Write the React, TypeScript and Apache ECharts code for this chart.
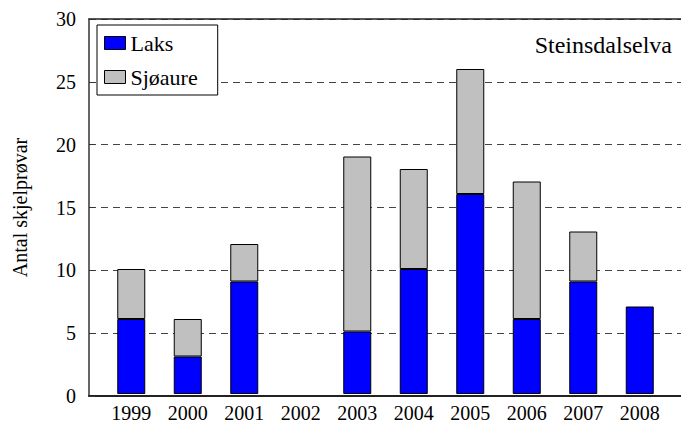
import React, { useEffect, useRef } from "react";
import * as echarts from "echarts";

const years = ["1999", "2000", "2001", "2002", "2003", "2004", "2005", "2006", "2007", "2008"];
const laks = [6, 3, 9, 0, 5, 10, 16, 6, 9, 7];
const sjoaure = [4, 3, 3, 0, 14, 8, 10, 11, 4, 0];
const yTicks = [0, 5, 10, 15, 20, 25, 30];

const FONT = "Liberation Serif";
const FONT2 = "Times New Roman, Liberation Serif, Times, serif";

export default function App() {
  const ref = useRef<HTMLDivElement>(null);
  useEffect(() => {
    if (!ref.current) return;
    const chart = echarts.init(ref.current, undefined, { renderer: "svg" });
    chart.setOption({
      animation: false,
      grid: [
        { left: 89, right: 0, top: 19, bottom: 27 },
        { left: 103, right: 13, top: 19, bottom: 27 },
      ],
      graphic: {
        elements: [
          {
            type: "text",
            right: 9,
            top: 33,
            z: 10,
            style: {
              text: "Steinsdalselva",
              fontFamily: FONT2,
              fontSize: 24,
              fontWeight: "normal",
              fontStyle: "normal",
              fill: "#010101",
            },
          },
        ],
      },
      legend: {
        show: true,
        orient: "vertical",
        left: 97,
        top: 25,
        itemWidth: 21,
        itemHeight: 13,
        itemGap: 12,
        padding: [7, 20, 7, 7],
        borderColor: "#000",
        borderWidth: 1,
        backgroundColor: "#fff",
        icon: "rect",
        textStyle: {
          fontFamily: FONT2,
          fontSize: 22,
          fontWeight: "normal",
          fontStyle: "normal",
          color: "#010101",
        },
        itemStyle: { borderColor: "#000", borderWidth: 1 },
        data: ["Laks", "Sjøaure"],
      },
      xAxis: [
        {
          type: "value",
          gridIndex: 0,
          min: 0,
          max: 1,
          position: "bottom",
          axisLine: { show: true, lineStyle: { color: "#222", width: 2 } },
          axisTick: { show: false },
          axisLabel: { show: false },
          splitLine: { show: false },
        },
        {
          type: "value",
          gridIndex: 0,
          min: 0,
          max: 1,
          position: "top",
          axisLine: { show: true, lineStyle: { color: "#222", width: 1.5 } },
          axisTick: { show: false },
          axisLabel: { show: false },
          splitLine: { show: false },
        },
        {
          type: "category",
          gridIndex: 1,
          data: years,
          axisLine: { show: false },
          axisTick: { show: false },
          axisLabel: { fontFamily: FONT, fontSize: 20, color: "#000", margin: 9 },
        },
      ],
      yAxis: [
        {
          type: "value",
          gridIndex: 0,
          min: yTicks[0],
          max: yTicks[yTicks.length - 1],
          interval: 5,
          name: "Antal skjelprøvar",
          nameLocation: "middle",
          nameGap: 59,
          nameRotate: 90,
          nameTextStyle: { fontFamily: FONT, fontSize: 20, color: "#000" },
          axisLine: { show: true, lineStyle: { color: "#333", width: 1.5 } },
          axisTick: { show: true, inside: true, length: 6, lineStyle: { color: "#333" } },
          axisLabel: { fontFamily: FONT, fontSize: 20, color: "#000", margin: 13 },
          splitLine: { show: true, lineStyle: { color: "#444", type: [7, 5], width: 1 } },
        },
        {
          type: "value",
          gridIndex: 1,
          min: 0,
          max: 30,
          interval: 5,
          show: false,
        },
      ],
      series: [
        {
          name: "Laks",
          type: "bar",
          stack: "total",
          xAxisIndex: 2,
          yAxisIndex: 1,
          barWidth: 28,
          data: laks.map((v) => (v === 0 ? null : v)),
          itemStyle: { color: "#0000FF", borderColor: "#000", borderWidth: 1 },
        },
        {
          name: "Sjøaure",
          type: "bar",
          stack: "total",
          xAxisIndex: 2,
          yAxisIndex: 1,
          barWidth: 28,
          data: sjoaure.map((v) => (v === 0 ? null : v)),
          itemStyle: { color: "#C0C0C0", borderColor: "#000", borderWidth: 1 },
        },
      ],
    });
    return () => chart.dispose();
  }, []);
  return <div ref={ref} style={{ width: 681, height: 423, position: "absolute", left: 0, top: 0, background: "#fff" }} />;
}
